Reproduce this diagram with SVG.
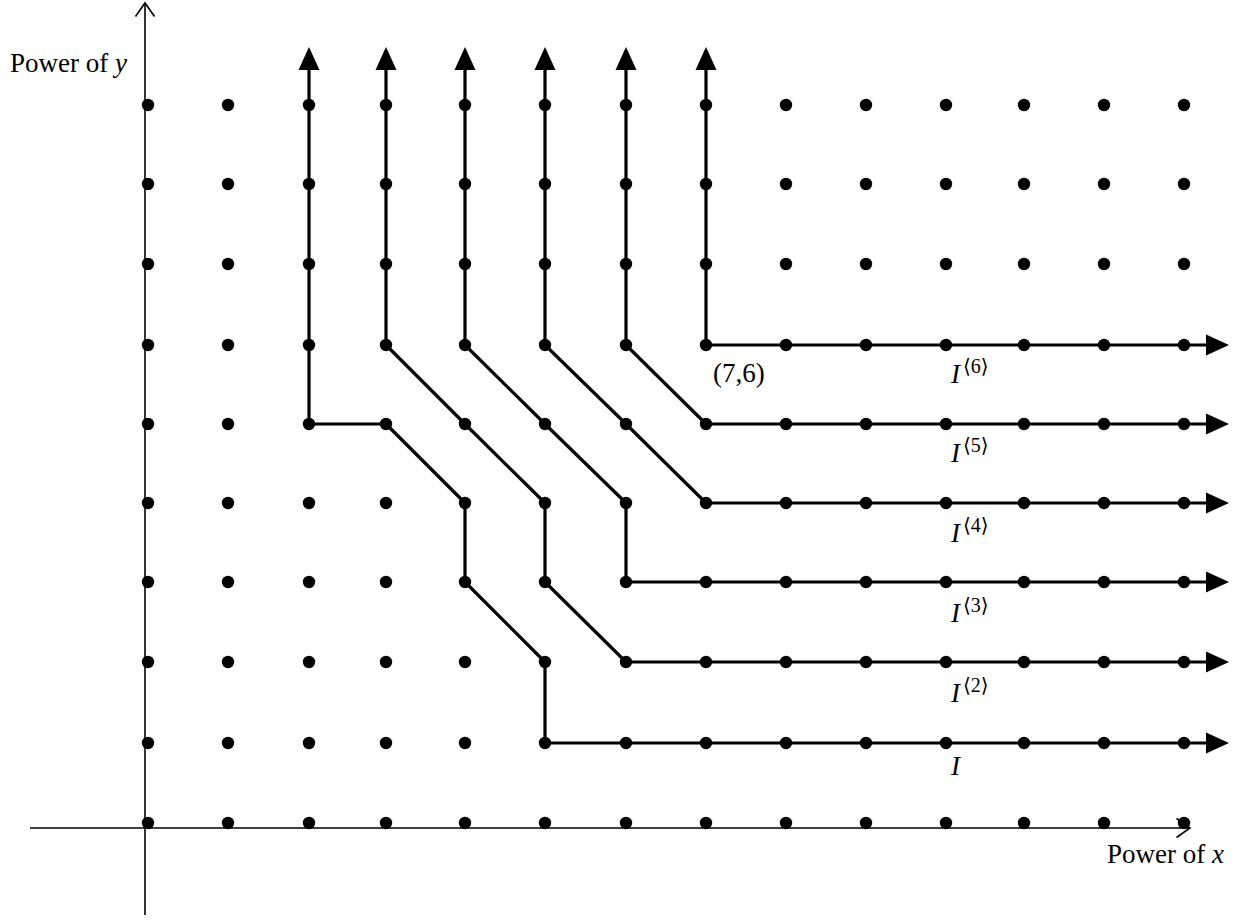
<svg xmlns="http://www.w3.org/2000/svg" width="1246" height="922" viewBox="0 0 1246 922">
<style>
.ax{stroke:#000;stroke-width:1.6;fill:none}
.pth{stroke:#000;stroke-width:3.2;fill:none;stroke-linejoin:round;marker-start:url(#ah);marker-end:url(#ah)}
.d{fill:#000}
text{font-family:"Liberation Serif","DejaVu Serif",serif;font-size:27px;fill:#000}
.it{font-style:italic}
.sup{font-size:20px}
</style>
<defs>
<marker id="ah" markerUnits="userSpaceOnUse" markerWidth="23" markerHeight="22" viewBox="-1 -11 23 22" refX="0" refY="0" orient="auto-start-reverse">
<path d="M-1,-10.5 L22,0 L-1,10.5 Z" fill="#000"/>
</marker>
<marker id="oa" markerUnits="userSpaceOnUse" markerWidth="18" markerHeight="24" viewBox="-16 -12 18 24" refX="0" refY="0" orient="auto">
<path d="M-13.5,-9.5 L0,0 L-13.5,9.5" fill="none" stroke="#000" stroke-width="1.6"/>
</marker>
<circle id="dot" r="6.2" fill="#000"/>
</defs>
<g id="axes">
<line class="ax" x1="30" y1="828" x2="1190" y2="828" marker-end="url(#oa)"/>
<line class="ax" x1="145" y1="915" x2="145" y2="3" marker-end="url(#oa)"/>
</g>
<g id="connectors">
<path id="I1" class="pth" d="M309,69 L309,424 L386,424 L465,503 L465,582 L545,662 L545,743 L1207,743"/>
<path id="I2" class="pth" d="M386,69 L386,345 L465,424 L545,503 L545,582 L626,662 L1207,662"/>
<path id="I3" class="pth" d="M465,69 L465,345 L545,424 L626,503 L626,582 L1207,582"/>
<path id="I4" class="pth" d="M545,69 L545,345 L626,424 L706,503 L1207,503"/>
<path id="I5" class="pth" d="M626,69 L626,345 L706,424 L1207,424"/>
<path id="I6" class="pth" d="M706,69 L706,345 L1207,345"/>
</g>
<g id="dots">
<g id="row9"><use href="#dot" x="148" y="105"/><use href="#dot" x="228" y="105"/><use href="#dot" x="309" y="105"/><use href="#dot" x="386" y="105"/><use href="#dot" x="465" y="105"/><use href="#dot" x="545" y="105"/><use href="#dot" x="626" y="105"/><use href="#dot" x="706" y="105"/><use href="#dot" x="786" y="105"/><use href="#dot" x="866" y="105"/><use href="#dot" x="946" y="105"/><use href="#dot" x="1024" y="105"/><use href="#dot" x="1104" y="105"/><use href="#dot" x="1184" y="105"/></g>
<g id="row8"><use href="#dot" x="148" y="184"/><use href="#dot" x="228" y="184"/><use href="#dot" x="309" y="184"/><use href="#dot" x="386" y="184"/><use href="#dot" x="465" y="184"/><use href="#dot" x="545" y="184"/><use href="#dot" x="626" y="184"/><use href="#dot" x="706" y="184"/><use href="#dot" x="786" y="184"/><use href="#dot" x="866" y="184"/><use href="#dot" x="946" y="184"/><use href="#dot" x="1024" y="184"/><use href="#dot" x="1104" y="184"/><use href="#dot" x="1184" y="184"/></g>
<g id="row7"><use href="#dot" x="148" y="264"/><use href="#dot" x="228" y="264"/><use href="#dot" x="309" y="264"/><use href="#dot" x="386" y="264"/><use href="#dot" x="465" y="264"/><use href="#dot" x="545" y="264"/><use href="#dot" x="626" y="264"/><use href="#dot" x="706" y="264"/><use href="#dot" x="786" y="264"/><use href="#dot" x="866" y="264"/><use href="#dot" x="946" y="264"/><use href="#dot" x="1024" y="264"/><use href="#dot" x="1104" y="264"/><use href="#dot" x="1184" y="264"/></g>
<g id="row6"><use href="#dot" x="148" y="345"/><use href="#dot" x="228" y="345"/><use href="#dot" x="309" y="345"/><use href="#dot" x="386" y="345"/><use href="#dot" x="465" y="345"/><use href="#dot" x="545" y="345"/><use href="#dot" x="626" y="345"/><use href="#dot" x="706" y="345"/><use href="#dot" x="786" y="345"/><use href="#dot" x="866" y="345"/><use href="#dot" x="946" y="345"/><use href="#dot" x="1024" y="345"/><use href="#dot" x="1104" y="345"/><use href="#dot" x="1184" y="345"/></g>
<g id="row5"><use href="#dot" x="148" y="424"/><use href="#dot" x="228" y="424"/><use href="#dot" x="309" y="424"/><use href="#dot" x="386" y="424"/><use href="#dot" x="465" y="424"/><use href="#dot" x="545" y="424"/><use href="#dot" x="626" y="424"/><use href="#dot" x="706" y="424"/><use href="#dot" x="786" y="424"/><use href="#dot" x="866" y="424"/><use href="#dot" x="946" y="424"/><use href="#dot" x="1024" y="424"/><use href="#dot" x="1104" y="424"/><use href="#dot" x="1184" y="424"/></g>
<g id="row4"><use href="#dot" x="148" y="503"/><use href="#dot" x="228" y="503"/><use href="#dot" x="309" y="503"/><use href="#dot" x="386" y="503"/><use href="#dot" x="465" y="503"/><use href="#dot" x="545" y="503"/><use href="#dot" x="626" y="503"/><use href="#dot" x="706" y="503"/><use href="#dot" x="786" y="503"/><use href="#dot" x="866" y="503"/><use href="#dot" x="946" y="503"/><use href="#dot" x="1024" y="503"/><use href="#dot" x="1104" y="503"/><use href="#dot" x="1184" y="503"/></g>
<g id="row3"><use href="#dot" x="148" y="582"/><use href="#dot" x="228" y="582"/><use href="#dot" x="309" y="582"/><use href="#dot" x="386" y="582"/><use href="#dot" x="465" y="582"/><use href="#dot" x="545" y="582"/><use href="#dot" x="626" y="582"/><use href="#dot" x="706" y="582"/><use href="#dot" x="786" y="582"/><use href="#dot" x="866" y="582"/><use href="#dot" x="946" y="582"/><use href="#dot" x="1024" y="582"/><use href="#dot" x="1104" y="582"/><use href="#dot" x="1184" y="582"/></g>
<g id="row2"><use href="#dot" x="148" y="662"/><use href="#dot" x="228" y="662"/><use href="#dot" x="309" y="662"/><use href="#dot" x="386" y="662"/><use href="#dot" x="465" y="662"/><use href="#dot" x="545" y="662"/><use href="#dot" x="626" y="662"/><use href="#dot" x="706" y="662"/><use href="#dot" x="786" y="662"/><use href="#dot" x="866" y="662"/><use href="#dot" x="946" y="662"/><use href="#dot" x="1024" y="662"/><use href="#dot" x="1104" y="662"/><use href="#dot" x="1184" y="662"/></g>
<g id="row1"><use href="#dot" x="148" y="743"/><use href="#dot" x="228" y="743"/><use href="#dot" x="309" y="743"/><use href="#dot" x="386" y="743"/><use href="#dot" x="465" y="743"/><use href="#dot" x="545" y="743"/><use href="#dot" x="626" y="743"/><use href="#dot" x="706" y="743"/><use href="#dot" x="786" y="743"/><use href="#dot" x="866" y="743"/><use href="#dot" x="946" y="743"/><use href="#dot" x="1024" y="743"/><use href="#dot" x="1104" y="743"/><use href="#dot" x="1184" y="743"/></g>
<g id="row0"><use href="#dot" x="148" y="823"/><use href="#dot" x="228" y="823"/><use href="#dot" x="309" y="823"/><use href="#dot" x="386" y="823"/><use href="#dot" x="465" y="823"/><use href="#dot" x="545" y="823"/><use href="#dot" x="626" y="823"/><use href="#dot" x="706" y="823"/><use href="#dot" x="786" y="823"/><use href="#dot" x="866" y="823"/><use href="#dot" x="946" y="823"/><use href="#dot" x="1024" y="823"/><use href="#dot" x="1104" y="823"/><use href="#dot" x="1184" y="823"/></g>
</g>
<g id="labels">
<text id="ylabel" x="10" y="72">Power of <tspan class="it">y</tspan></text>
<text id="xlabel" x="1107" y="863">Power of <tspan class="it">x</tspan></text>
<text id="pt76" x="713" y="382">(7,6)</text>
<text id="lI6" x="951" y="383"><tspan class="it">I</tspan><tspan class="sup" x="963" y="373">⟨6⟩</tspan></text>
<text id="lI5" x="951" y="462"><tspan class="it">I</tspan><tspan class="sup" x="963" y="452">⟨5⟩</tspan></text>
<text id="lI4" x="951" y="542"><tspan class="it">I</tspan><tspan class="sup" x="963" y="532">⟨4⟩</tspan></text>
<text id="lI3" x="951" y="622"><tspan class="it">I</tspan><tspan class="sup" x="963" y="612">⟨3⟩</tspan></text>
<text id="lI2" x="951" y="702"><tspan class="it">I</tspan><tspan class="sup" x="963" y="692">⟨2⟩</tspan></text>
<text id="lI1" x="951" y="775"><tspan class="it">I</tspan></text>
</g>
</svg>
